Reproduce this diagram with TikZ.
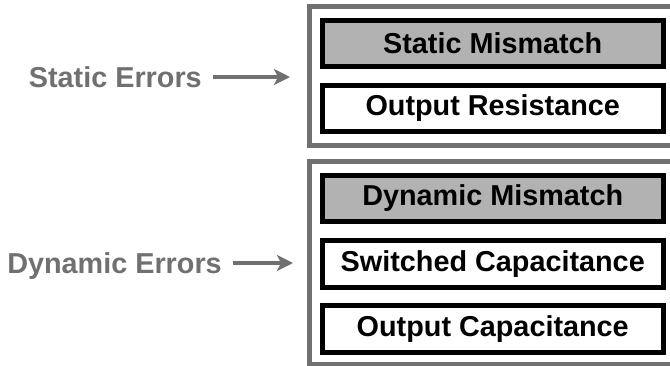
\documentclass[tikz,border=0pt]{standalone}
\usepackage{fontspec}
\setmainfont{Liberation Sans}
\usetikzlibrary{arrows.meta}

\definecolor{errgray}{RGB}{112,112,112}
\definecolor{boxgray}{RGB}{178,178,178}

\tikzset{
    errfont/.style={font=\bfseries\fontsize{28.8}{30}\selectfont},
    errbox/.style={draw=black, line width=5pt, errfont, inner sep=0pt, outer sep=0pt,
        minimum width=340.5pt, minimum height=46.5pt},
    mismatch/.style={errbox, fill=boxgray},
    errframe/.style={draw=errgray, line width=5pt, inner sep=0pt, outer sep=0pt,
        anchor=north west, minimum width=380pt},
    errlabel/.style={errfont, text=errgray, inner sep=0pt, anchor=east,
        text height=20.6pt, text depth=0pt},
    errarrow/.style={draw=errgray, line width=3.5pt, shorten <=11pt,
        -{Stealth[length=16pt,width=16pt,inset=4pt]}}
}

\begin{document}
\begin{tikzpicture}[x=1pt,y=-1pt]
            \useasboundingbox (0,0) rectangle (670,365);

            \node[errframe, minimum height=139pt] (statframe) at (309.5,6.5) {}; %Static
            \node[errframe, minimum height=203pt] (dynframe) at (309.5,161.5) {}; %Dynamic

            \node[mismatch] (statmis) at (492.75,43.5) {Static Mismatch};
            \node[errbox] (outres) at (492.75,108.25) {Output Resistance};

            \node[mismatch] (dynmis) at (492.75,198.25) {Dynamic Mismatch};
            \node[errbox] (swcap) at (492.75,264) {Switched Capacitance};
            \node[errbox] (outcap) at (492.75,329) {Output Capacitance};

            \node[errlabel] (statlbl) at (202,77) {Static Errors};
            \node[errlabel] (dynlbl) at (222,263) {Dynamic Errors};

            \coordinate (stattip) at (290,77);
            \coordinate (dyntip) at (293,263);

            \draw[errarrow] (statlbl) -- (stattip);
            \draw[errarrow] (dynlbl) -- (dyntip);
        \end{tikzpicture}
\end{document}
